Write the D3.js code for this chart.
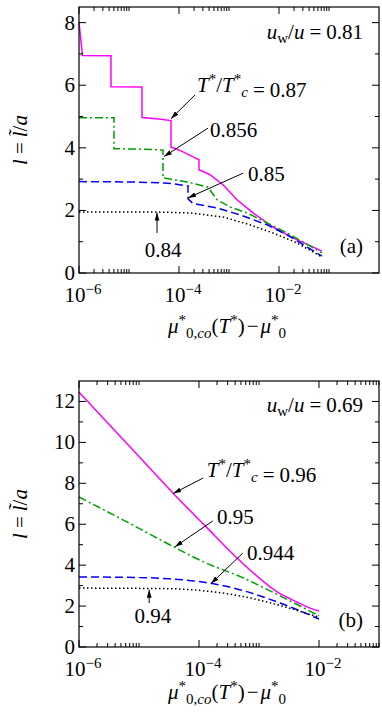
<!DOCTYPE html>
<html>
<head>
<meta charset="utf-8">
<script src="https://cdn.jsdelivr.net/npm/d3@7"></script>
<style>
  body { margin: 0; background: #fff; }
  svg { display: block; }
  svg text { font-family: "Liberation Serif", "Times New Roman", "DejaVu Serif", serif; }
</style>
</head>
<body>
<svg id="chart" width="382" height="715"></svg>
<script>
// panel (a): u_w/u = 0.81   x values are log10 of mu*_0,co(T*) - mu*_0
let xExpA87  = [-6, -5.93, -5.36, -5.36, -4.74, -4.74, -4.45, -4.16, -4.16, -4.05, -3.92, -3.72, -3.6, -3.6, -3.38, -3.12, -2.84, -2.52, -2.12, -1.72, -1.14];
let lA87     = [8.0, 6.95, 6.94, 5.95, 5.94, 4.97, 4.93, 4.87, 4.02, 3.96, 3.87, 3.71, 3.62, 3.30, 3.14, 2.82, 2.34, 1.92, 1.47, 1.12, 0.70];
let xExpA856 = [-6, -5.30, -5.30, -4.8, -4.32, -4.32, -3.84, -3.42, -3.24, -2.98, -2.64, -2.24, -1.84, -1.14];
let lA856    = [4.96, 4.96, 3.97, 3.96, 3.93, 3.04, 2.91, 2.74, 2.34, 2.11, 1.92, 1.60, 1.28, 0.64];
let xExpA85  = [-6, -5, -4.4, -4.1, -3.82, -3.82, -3.72, -3.24, -2.78, -2.24, -1.84, -1.14];
let lA85     = [2.92, 2.91, 2.88, 2.85, 2.78, 2.37, 2.22, 2.08, 1.86, 1.54, 1.22, 0.54];
let xExpA84  = [-6, -4.5, -3.78, -3.12, -2.58, -2.12, -1.64, -1.14];
let lA84     = [1.95, 1.95, 1.92, 1.79, 1.54, 1.28, 0.96, 0.51];

// panel (b): u_w/u = 0.69
let xExpB96  = [-6, -5, -4.42, -3.88, -3.33, -2.67, -2.37, -2.15, -2.0];
let lB96     = [12.46, 9.31, 7.48, 5.87, 4.25, 2.64, 2.2, 1.9, 1.76];
let xExpB95  = [-6, -5, -4.42, -3.88, -3.32, -2.65, -2.3, -2.0];
let lB95     = [7.33, 5.8, 4.89, 4.1, 3.45, 2.5, 1.98, 1.52];
let xExpB944 = [-6, -5, -4.5, -4.0, -3.32, -2.65, -2.0];
let lB944    = [3.42, 3.40, 3.33, 3.2, 2.8, 2.15, 1.37];
let xExpB94  = [-6, -4.5, -3.78, -3.32, -2.65, -2.0];
let lB94     = [2.88, 2.85, 2.7, 2.5, 2.03, 1.45];

// ticks
let xMajorExp = [-6, -4, -2];
let xMinorMult = [2, 3, 4, 5, 6, 7, 8, 9, 10];
let yMajorA = [0, 2, 4, 6, 8];
let yMinorA = [1, 3, 5, 7];
let yMajorB = [0, 2, 4, 6, 8, 10, 12];
let yMinorB = [1, 3, 5, 7, 9, 11];

// temperature labels (T*/Tc*) and arrows: [tailExp, tailL, tipExp, tipL, labelExp, labelL, anchor]
let tempA = ["0.87", "0.856", "0.85", "0.84"];
let arrowsA = [
  [-3.68, 5.69, -4.16, 4.93, -3.64, 5.78, "start"],
  [-3.42, 4.63, -4.30, 3.72, -3.38, 4.35, "start"],
  [-2.72, 3.19, -3.82, 2.40, -2.62, 2.94, "start"],
  [-4.44, 1.28, -4.44, 1.93, -4.32, 0.51, "middle"]
];
let tempB = ["0.96", "0.95", "0.944", "0.94"];
let arrowsB = [
  [-3.93, 8.26, -4.43, 7.50, -3.87, 8.31, "start"],
  [-3.77, 6.16, -4.40, 4.90, -3.70, 6.01, "start"],
  [-3.27, 4.59, -3.80, 3.10, -3.20, 4.25, "start"],
  [-4.83, 2.15, -4.83, 2.80, -4.77, 1.17, "middle"]
];

let styles = [
  {color: "#ff00ff", dash: null},
  {color: "#00a000", dash: "8,3,2,3"},
  {color: "#0000ff", dash: "8,4"},
  {color: "#000000", dash: "1.5,2.5"}
];

let svg = d3.select("#chart");

svg.append("defs").append("marker")
  .attr("id", "head")
  .attr("viewBox", "0 0 10 6")
  .attr("refX", 10).attr("refY", 3)
  .attr("markerWidth", 8).attr("markerHeight", 5)
  .attr("markerUnits", "userSpaceOnUse")
  .attr("orient", "auto")
  .append("path").attr("d", "M0,0 L10,3 L0,6 z").attr("fill", "#000");

// "= value" with math-like spacing round the equals sign
let equalsPart = (t, val) => {
  t.append("tspan").attr("dx", 5).text("=");
  t.append("tspan").attr("dx", 5).text(val);
};

let drawPanel = (cfg) => {
  let left = 79, w = 300, h = 266;
  let g = svg.append("g").attr("transform", `translate(${left},${cfg.top})`);
  let x = d3.scaleLog().domain(cfg.xDomain).range([0, w]);
  let y = d3.scaleLinear().domain([0, cfg.yMax]).range([h, 0]);

  // curves
  cfg.series.forEach((s, i) => {
    let pts = s.xs.map((e, k) => [Math.pow(10, e), s.ls[k]]);
    let line = d3.line().x(d => x(d[0])).y(d => y(d[1])).curve(cfg.curve);
    g.append("path")
      .attr("d", line(pts))
      .attr("fill", "none")
      .attr("stroke", styles[i].color)
      .attr("stroke-width", 1.5)
      .attr("stroke-dasharray", styles[i].dash);
  });

  // frame
  g.append("rect").attr("width", w).attr("height", h)
    .attr("fill", "none").attr("stroke", "#000").attr("stroke-width", 1.2);

  // ticks, inward on all four sides
  let xMinor = [];
  xMajorExp.forEach(e => xMinorMult.forEach(m => xMinor.push(m * Math.pow(10, e))));
  let xMajor = xMajorExp.map(e => Math.pow(10, e));
  let tk = g.append("g").attr("stroke", "#000").attr("stroke-width", 1);
  [[xMajor, 7], [xMinor, 4]].forEach(([vals, len]) => {
    vals.forEach(v => {
      tk.append("line").attr("x1", x(v)).attr("x2", x(v)).attr("y1", h).attr("y2", h - len);
      tk.append("line").attr("x1", x(v)).attr("x2", x(v)).attr("y1", 0).attr("y2", len);
    });
  });
  [[cfg.yMajor, 7], [cfg.yMinor, 4]].forEach(([vals, len]) => {
    vals.forEach(v => {
      tk.append("line").attr("x1", 0).attr("x2", len).attr("y1", y(v)).attr("y2", y(v));
      tk.append("line").attr("x1", w).attr("x2", w - len).attr("y1", y(v)).attr("y2", y(v));
    });
  });

  // tick labels
  xMajorExp.forEach(e => {
    let t = g.append("text").attr("x", x(Math.pow(10, e)) + 4).attr("y", h + 29)
      .attr("text-anchor", "middle").attr("font-size", 21);
    t.append("tspan").text("10");
    t.append("tspan").attr("dy", -8).attr("font-size", 15).text("\u2212" + (-e));
  });
  cfg.yMajor.forEach(v => {
    g.append("text").attr("x", -4).attr("y", y(v)).attr("dy", "0.33em")
      .attr("text-anchor", "end").attr("font-size", 21)
      .text(v);
  });

  // axis titles
  let yt = g.append("text")
    .attr("transform", `translate(-52,${h / 2}) rotate(-90)`)
    .attr("text-anchor", "middle").attr("font-size", 21);
  yt.append("tspan").attr("font-style", "italic").text("l");
  yt.append("tspan").attr("dx", 5).text("=");
  yt.append("tspan").attr("dx", 5).attr("font-style", "italic").text("l\u0303");
  yt.append("tspan").text("/");
  yt.append("tspan").attr("font-style", "italic").text("a");

  let xt = g.append("text").attr("x", w / 2 - 2).attr("y", h + cfg.xTitleDy)
    .attr("text-anchor", "middle").attr("font-size", 21);
  xt.append("tspan").attr("font-style", "italic").text("\u03bc");
  xt.append("tspan").attr("dy", -8).attr("font-size", 15).text("*");
  xt.append("tspan").attr("dy", 13).attr("font-size", 15).text("0,");
  xt.append("tspan").attr("font-size", 15).attr("font-style", "italic").text("co");
  xt.append("tspan").attr("dy", -5).text("(");
  xt.append("tspan").attr("font-style", "italic").text("T");
  xt.append("tspan").attr("dy", -8).attr("font-size", 15).text("*");
  xt.append("tspan").attr("dy", 8).text(")");
  xt.append("tspan").attr("dx", 2).text("\u2212");
  xt.append("tspan").attr("dx", 2).attr("font-style", "italic").text("\u03bc");
  xt.append("tspan").attr("dy", -8).attr("font-size", 15).text("*");
  xt.append("tspan").attr("dy", 13).attr("font-size", 15).text("0");

  // u_w / u
  let ut = g.append("text").attr("x", w - 16).attr("y", cfg.uY)
    .attr("text-anchor", "end").attr("font-size", 21);
  ut.append("tspan").attr("font-style", "italic").text("u");
  ut.append("tspan").attr("dy", 4).attr("font-size", 15).text("w");
  ut.append("tspan").attr("dy", -4).text("/");
  ut.append("tspan").attr("font-style", "italic").text("u");
  equalsPart(ut, cfg.uVal);

  // panel tag
  g.append("text").attr("x", w - 16).attr("y", h - cfg.tagDy)
    .attr("text-anchor", "end").attr("font-size", 21)
    .text(cfg.tag);

  // arrows + temperature labels
  cfg.arrows.forEach((a, i) => {
    g.append("line")
      .attr("x1", x(Math.pow(10, a[0]))).attr("y1", y(a[1]))
      .attr("x2", x(Math.pow(10, a[2]))).attr("y2", y(a[3]))
      .attr("stroke", "#000").attr("stroke-width", 1)
      .attr("marker-end", "url(#head)");
    let t = g.append("text").attr("x", x(Math.pow(10, a[4]))).attr("y", y(a[5]))
      .attr("text-anchor", a[6]).attr("font-size", 21);
    if (i === 0) {
      t.append("tspan").attr("font-style", "italic").text("T");
      t.append("tspan").attr("dy", -8).attr("font-size", 15).text("*");
      t.append("tspan").attr("dy", 8).text("/");
      t.append("tspan").attr("font-style", "italic").text("T");
      t.append("tspan").attr("dy", -8).attr("font-size", 15).text("*");
      t.append("tspan").attr("dy", 13).attr("font-size", 15).attr("font-style", "italic").text("c");
      t.append("tspan").attr("dy", -5).text("");
      equalsPart(t, cfg.temps[i]);
    } else {
      t.text(cfg.temps[i]);
    }
  });
};

drawPanel({
  top: 7, xDomain: [1e-6, 1], yMax: 8.5,
  yMajor: yMajorA, yMinor: yMinorA,
  curve: d3.curveLinear,
  series: [{xs: xExpA87, ls: lA87}, {xs: xExpA856, ls: lA856}, {xs: xExpA85, ls: lA85}, {xs: xExpA84, ls: lA84}],
  arrows: arrowsA, temps: tempA,
  uVal: "0.81", uY: 32, tag: "(a)", tagDy: 20, xTitleDy: 60
});

drawPanel({
  top: 381, xDomain: [1e-6, 1e-1], yMax: 13,
  yMajor: yMajorB, yMinor: yMinorB,
  curve: d3.curveMonotoneX,
  series: [{xs: xExpB96, ls: lB96}, {xs: xExpB95, ls: lB95}, {xs: xExpB944, ls: lB944}, {xs: xExpB94, ls: lB94}],
  arrows: arrowsB, temps: tempB,
  uVal: "0.69", uY: 31, tag: "(b)", tagDy: 20, xTitleDy: 52
});
</script>
</body>
</html>
